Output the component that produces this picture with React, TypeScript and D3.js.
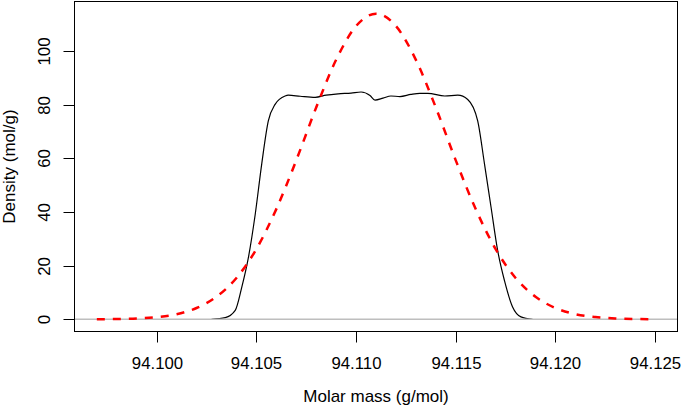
import React from "react";
import * as d3 from "d3";

const W = 685;
const H = 408;

// Black (solid) density curve
const blackX = [
  94.10275, 94.10344, 94.10394, 94.10427, 94.1046, 94.10494, 94.10527, 94.1056,
  94.10594, 94.10644, 94.1066, 94.1072, 94.10795, 94.1085, 94.1091, 94.10975,
  94.11025, 94.1107, 94.11095, 94.11135, 94.11175, 94.1122, 94.11275, 94.1132,
  94.1136, 94.11445, 94.1151, 94.1156, 94.1161, 94.11644, 94.11677, 94.1171,
  94.11744, 94.11785, 94.11827, 94.11885,
];
const blackY = [
  0, 0.6, 3.3, 12, 23, 39, 58, 74,
  80.2, 83.3, 83.6, 83.2, 82.8, 83.6, 84.1, 84.4,
  84.8, 83.5, 81.8, 82.5, 83.3, 83.1, 83.9, 84.3,
  84.3, 83.3, 83.6, 82, 74, 58, 41.8, 25.7,
  14.5, 4.6, 0.9, 0,
];

// Red (dashed) density curve
const redX = [
  94.097, 94.098, 94.099, 94.1, 94.101, 94.102, 94.103, 94.104, 94.105, 94.106,
  94.107, 94.108, 94.109, 94.11, 94.111, 94.112, 94.113, 94.114, 94.115, 94.116,
  94.117, 94.118, 94.119, 94.12, 94.121, 94.122, 94.123, 94.124, 94.125,
];
const redY = [
  0.04, 0.11, 0.32, 0.82, 1.9, 4.2, 8.4, 15.4, 26.2, 41.1,
  59.3, 79.0, 96.8, 109.4, 114, 109.4, 96.8, 79.0, 59.3, 41.1,
  26.2, 15.4, 8.4, 4.2, 1.9, 0.82, 0.32, 0.11, 0.04,
];

const xTicks = [94.1, 94.105, 94.11, 94.115, 94.12, 94.125];
const yTicks = [0, 20, 40, 60, 80, 100];

const xLabel = "Molar mass (g/mol)";
const yLabel = "Density (mol/g)";

export default function App() {
  const left = 74.5;
  const right = 677.5;
  const top = 1.5;
  const bottom = 331.5;

  const xDom = [94.097, 94.125];
  const xPad = (xDom[1] - xDom[0]) * 0.04;
  const x = d3
    .scaleLinear()
    .domain([xDom[0] - xPad, xDom[1] + xPad])
    .range([left, right]);
  const yDom = [0, 114];
  const yPad = (yDom[1] - yDom[0]) * 0.04;
  const y = d3
    .scaleLinear()
    .domain([yDom[0] - yPad, yDom[1] + yPad])
    .range([bottom, top]);

  const line = d3
    .line<[number, number]>()
    .x((d) => x(d[0]))
    .y((d) => y(d[1]))
    .curve(d3.curveMonotoneX);

  const blackPts: [number, number][] = blackX.map((v, i) => [v, blackY[i]]);
  const redPts: [number, number][] = redX.map((v, i) => [v, redY[i]]);

  const font = "'Liberation Sans', Arial, Helvetica, sans-serif";

  return (
    <svg
      width={W}
      height={H}
      style={{ position: "absolute", left: 0, top: 0, background: "#fff" }}
      fontFamily={font}
    >
      <defs>
        <clipPath id="plotclip">
          <rect x={left} y={top} width={right - left} height={bottom - top} />
        </clipPath>
      </defs>
      <g clipPath="url(#plotclip)">
        <path d={line(blackPts) ?? ""} fill="none" stroke="#000" strokeWidth={1.2} />
        <line
          x1={left}
          x2={right}
          y1={y(0)}
          y2={y(0)}
          stroke="#bebebe"
          strokeWidth={1.5}
        />
        <path
          d={line(redPts) ?? ""}
          fill="none"
          stroke="#ff0000"
          strokeWidth={2.5}
          strokeDasharray="8 8"
        />
      </g>
      <rect
        x={left}
        y={top}
        width={right - left}
        height={bottom - top}
        fill="none"
        stroke="#000"
        strokeWidth={1}
      />
      {/* x axis */}
      <line
        x1={Math.round(x(xTicks[0])) + 0.5}
        x2={Math.round(x(xTicks[xTicks.length - 1])) + 0.5}
        y1={bottom}
        y2={bottom}
        stroke="#000"
      />
      {xTicks.map((t) => {
        const px = Math.round(x(t)) + 0.5;
        return (
          <g key={t}>
            <line x1={px} x2={px} y1={bottom} y2={bottom + 11} stroke="#000" />
            <text
              x={px}
              y={368.5}
              textAnchor="middle"
              fontSize={16.8}
              fill="#000"
            >
              {d3.format(".3f")(t)}
            </text>
          </g>
        );
      })}
      {/* y axis */}
      {yTicks.map((t) => {
        const py = Math.round(y(t)) + 0.5;
        return (
          <g key={t}>
            <line x1={left - 11} x2={left} y1={py} y2={py} stroke="#000" />
            <text
              transform={`translate(50,${py}) rotate(-90)`}
              textAnchor="middle"
              fontSize={16.8}
              fill="#000"
            >
              {t}
            </text>
          </g>
        );
      })}
      <text
        x={(left + right) / 2}
        y={402}
        textAnchor="middle"
        fontSize={17}
        fill="#000"
      >
        {xLabel}
      </text>
      <text
        transform={`translate(15,${(top + bottom) / 2}) rotate(-90)`}
        textAnchor="middle"
        fontSize={17}
        fill="#000"
      >
        {yLabel}
      </text>
    </svg>
  );
}
